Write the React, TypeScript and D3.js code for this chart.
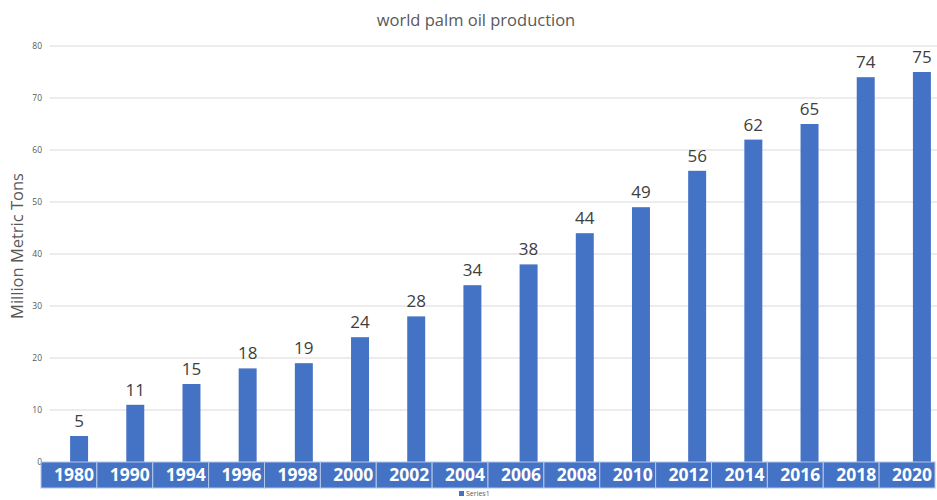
import React from "react";
import * as d3 from "d3";

const years = ["1980","1990","1994","1996","1998","2000","2002","2004","2006","2008","2010","2012","2014","2016","2018","2020"];
const values = [5,11,15,18,19,24,28,34,38,44,49,56,62,65,74,75];
const yTicks = [0,10,20,30,40,50,60,70,80];

export default function App() {
  const W = 937, H = 500;
  const y = d3.scaleLinear().domain([0, 80]).range([462, 46]);
  const xBar = d3.scaleBand().domain(years).range([51, 950]).paddingInner(0.68).paddingOuter(0.34);
  const xBox = d3.scaleBand().domain(years).range([41, 935]);
  const font = "'Open Sans', sans-serif";
  return (
    <svg width={W} height={H} style={{ position: "absolute", left: 0, top: 0, background: "#fff" }} fontFamily={font}>
      <text x={476} y={26} textAnchor="middle" fontSize={16.5} fill="#595959">world palm oil production</text>
      {yTicks.map(t => (
        <g key={t}>
          {t > 0 && <line x1={50} x2={937} y1={y(t)} y2={y(t)} stroke="#d9d9d9" strokeWidth={1} />}
          <text x={42} y={y(t) + 3} textAnchor="end" fontSize={8.5} fill="#595959">{t}</text>
        </g>
      ))}
      <text transform={`translate(23,246) rotate(-90)`} textAnchor="middle" fontSize={16.5} fill="#595959">Million Metric Tons</text>
      {years.map((yr, i) => (
        <g key={yr}>
          <rect x={xBar(yr)} y={y(values[i])} width={xBar.bandwidth()} height={y(0) - y(values[i])} fill="#4472C4" />
          <text x={xBar(yr)! + xBar.bandwidth() / 2} y={y(values[i]) - 9} textAnchor="middle" fontSize={17} fill="#404040">{values[i]}</text>
        </g>
      ))}
      {years.map(yr => (
        <g key={"b" + yr}>
          <rect x={xBox(yr)} y={462} width={xBox.bandwidth()} height={26} fill="#4472C4" stroke="#b4c7e7" strokeWidth={1} />
          <text x={xBox(yr)! + xBox.bandwidth() / 2 + 5} y={481} textAnchor="middle" fontSize={17.5} fontWeight="bold" fill="#fff">{yr}</text>
        </g>
      ))}
      <rect x={459} y={491} width={5} height={5} fill="#4472C4" />
      <text x={466} y={496} fontSize={7} fill="#595959">Series1</text>
    </svg>
  );
}
